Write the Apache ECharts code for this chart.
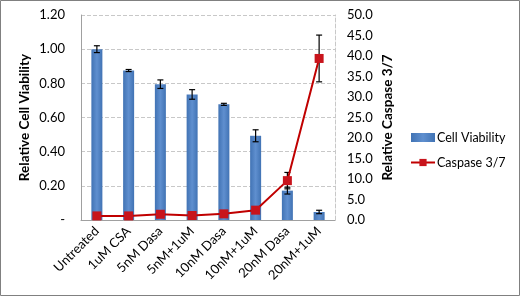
<!DOCTYPE html>
<html><head><meta charset="utf-8">
<script src="https://cdn.jsdelivr.net/npm/echarts@6/dist/echarts.min.js"></script>
<style>html,body{margin:0;padding:0;background:#fff}#c{width:520px;height:296px}</style>
</head><body><div id="c"></div>
<script>
const categories = ['Untreated','1uM CSA','5nM Dasa','5nM+1uM','10nM Dasa','10nM+1uM','20nM Dasa','20nM+1uM'];
const viability = [1.00, 0.875, 0.795, 0.735, 0.677, 0.493, 0.172, 0.047];
const viabilityErr = [0.02, 0.006, 0.025, 0.028, 0.006, 0.035, 0.02, 0.01];
const caspase = [1.0, 1.0, 1.4, 1.1, 1.5, 2.4, 9.6, 39.4];
const caspaseErr = [0.2, 0.2, 0.3, 0.2, 0.3, 0.4, 2.0, 5.7];
const leftTicks = ['-', '0.20', '0.40', '0.60', '0.80', '1.00', '1.20'];

const font = 'Lato, "Open Sans", sans-serif';
const chart = echarts.init(document.getElementById('c'));

function errItem(params, api) {
  const i = api.value(0), lo = api.value(1), hi = api.value(2);
  const p1 = api.coord([i, hi]), p2 = api.coord([i, lo]);
  const x = p1[0], c = 3;
  const st = {stroke: '#000', lineWidth: 1.2};
  return {type: 'group', children: [
    {type: 'line', shape: {x1: x, y1: p1[1], x2: x, y2: p2[1]}, style: st},
    {type: 'line', shape: {x1: x - c, y1: p1[1], x2: x + c, y2: p1[1]}, style: st},
    {type: 'line', shape: {x1: x - c, y1: p2[1], x2: x + c, y2: p2[1]}, style: st}
  ]};
}

chart.setOption({
  animation: false,
  textStyle: {fontFamily: font},
  graphic: [{type: 'rect', shape: {x: 0.5, y: 0.5, width: 519, height: 295}, style: {fill: 'none', stroke: '#808080', lineWidth: 1}}],
  grid: {left: 81, right: 185, top: 15, bottom: 76},
  legend: {
    orient: 'vertical', left: 410, top: 131, padding: 0, itemGap: 12, itemWidth: 24, itemHeight: 9,
    textStyle: {fontFamily: font, fontSize: 12.5, color: '#000', padding: [0, 0, 0, -3]},
    data: [{name: 'Cell Viability', icon: 'rect'}, {name: 'Caspase 3/7'}]
  },
  xAxis: {
    type: 'category', data: categories,
    axisLine: {lineStyle: {color: '#a0a0a0'}},
    axisTick: {show: false},
    axisLabel: {rotate: 45, fontSize: 13, color: '#000', fontFamily: font, margin: 9, interval: 0}
  },
  yAxis: [{
    type: 'value', min: 0, max: 1.2, interval: 0.2,
    name: 'Relative Cell Viability', nameLocation: 'middle', nameGap: 49,
    nameTextStyle: {fontWeight: 'bold', fontSize: 13.5, color: '#000', fontFamily: font},
    axisLine: {show: true, lineStyle: {color: '#a0a0a0'}},
    axisTick: {show: false},
    axisLabel: {fontSize: 13, color: '#000', margin: 16, fontFamily: font,
      formatter: v => leftTicks[Math.round(v / 0.2)]},
    splitLine: {lineStyle: {color: '#c8c8c8', type: 'dashed'}}
  }, {
    type: 'value', min: 0, max: 50, interval: 5,
    name: 'Relative Caspase 3/7', nameLocation: 'middle', nameGap: 46,
    nameTextStyle: {fontWeight: 'bold', fontSize: 13.5, color: '#000', fontFamily: font},
    axisLine: {show: true, lineStyle: {color: '#c8c8c8', type: 'dashed'}},
    axisTick: {show: false},
    axisLabel: {fontSize: 13, color: '#000', margin: 12, fontFamily: font,
      formatter: v => v.toFixed(1)},
    splitLine: {show: false}
  }],
  series: [{
    name: 'Cell Viability', type: 'bar', data: viability, barWidth: 11, yAxisIndex: 0,
    itemStyle: {color: new echarts.graphic.LinearGradient(0, 0, 1, 0, [
      {offset: 0, color: '#4173b4'}, {offset: 0.5, color: '#5f8fcf'}, {offset: 1, color: '#4173b4'}])},
    z: 2
  }, {
    name: 'viabilityErr', type: 'custom', yAxisIndex: 0, renderItem: errItem, z: 3,
    data: viability.map((v, i) => [i, v - viabilityErr[i], v + viabilityErr[i]])
  }, {
    name: 'Caspase 3/7', type: 'line', data: caspase, yAxisIndex: 1,
    symbol: 'rect', symbolSize: 9,
    lineStyle: {color: '#c00000', width: 2},
    itemStyle: {color: '#c8141c'}, z: 5
  }, {
    name: 'caspaseErr', type: 'custom', yAxisIndex: 1, renderItem: errItem, z: 4,
    data: caspase.map((v, i) => [i, v - caspaseErr[i], v + caspaseErr[i]])
  }]
});
</script></body></html>
